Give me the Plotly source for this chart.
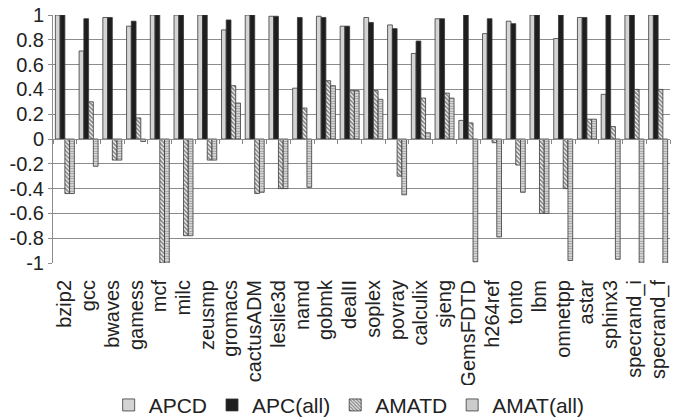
import plotly.graph_objects as go

benchmarks = ["bzip2", "gcc", "bwaves", "gamess", "mcf", "milc", "zeusmp", "gromacs",
              "cactusADM", "leslie3d", "namd", "gobmk", "dealII", "soplex", "povray",
              "calculix", "sjeng", "GemsFDTD", "h264ref", "tonto", "lbm", "omnetpp",
              "astar", "sphinx3", "specrand_i", "specrand_f"]
apcd = [1.0, 0.71, 0.98, 0.91, 1.0, 1.0, 1.0, 0.88, 1.0, 0.99, 0.41, 0.99, 0.91,
        0.98, 0.92, 0.69, 0.97, 0.15, 0.85, 0.95, 1.0, 0.81, 0.98, 0.36, 1.0, 1.0]
apc_all = [1.0, 0.97, 0.98, 0.95, 1.0, 1.0, 1.0, 0.96, 1.0, 0.99, 0.98, 0.98, 0.91,
           0.94, 0.89, 0.79, 0.97, 1.0, 0.97, 0.93, 1.0, 1.0, 0.98, 1.0, 1.0, 1.0]
amatd = [-0.44, 0.30, -0.17, 0.17, -1.0, -0.78, -0.17, 0.43, -0.44, -0.40, 0.25, 0.47,
         0.39, 0.39, -0.30, 0.33, 0.37, 0.13, -0.03, -0.21, -0.60, -0.40, 0.16, 0.10,
         0.40, 0.40]
amat_all = [-0.44, -0.22, -0.17, -0.02, -1.0, -0.78, -0.17, 0.29, -0.43, -0.40, -0.39,
            0.43, 0.39, 0.32, -0.45, 0.05, 0.33, -0.99, -0.79, -0.43, -0.60, -0.98,
            0.16, -0.97, -1.0, -1.0]
y_ticks = [1, 0.8, 0.6, 0.4, 0.2, 0, -0.2, -0.4, -0.6, -0.8, -1]

font_family = "Liberation Sans, Arial, sans-serif"
outline = dict(color="#3a3a3a", width=0.8)

fig = go.Figure()
fig.add_trace(go.Bar(name="APCD", x=benchmarks, y=apcd,
                     marker=dict(color="#d4d4d4", line=outline)))
fig.add_trace(go.Bar(name="APC(all)", x=benchmarks, y=apc_all,
                     marker=dict(color="#1e1e1e", line=outline)))
fig.add_trace(go.Bar(name="AMATD", x=benchmarks, y=amatd,
                     marker=dict(color="white", line=outline,
                                 pattern=dict(shape="\\", fgcolor="#111", bgcolor="white",
                                              size=3, solidity=0.6))))
fig.add_trace(go.Bar(name="AMAT(all)", x=benchmarks, y=amat_all,
                     marker=dict(color="white", line=outline,
                                 pattern=dict(shape="-", fgcolor="#333", bgcolor="white",
                                              size=2.5, solidity=0.6))))
# invisible trace to carry the zero-line category axis
fig.add_trace(go.Scatter(x=benchmarks, y=[None] * len(benchmarks), xaxis="x2",
                         mode="markers", showlegend=False, hoverinfo="skip"))

n = len(benchmarks)
fig.update_layout(
    width=674, height=420,
    margin=dict(l=53, r=4, t=15, b=157, autoexpand=False),
    paper_bgcolor="white", plot_bgcolor="white",
    barmode="group", bargap=0.2, bargroupgap=0,
    font=dict(family=font_family, color="#222"),
    xaxis=dict(categoryorder="array", categoryarray=benchmarks, range=[-0.5, n - 0.5],
               tickmode="array", tickvals=benchmarks, ticktext=benchmarks,
               tickangle=-90, tickfont=dict(size=20, color="#222"), ticks="",
               ticklabelstandoff=12,
               showgrid=False, showline=False, zeroline=False, automargin=False),
    xaxis2=dict(overlaying="x", anchor="free", position=0.5, side="bottom",
                categoryorder="array", categoryarray=benchmarks, range=[-0.5, n - 0.5],
                showticklabels=False, ticks="outside", tickson="boundaries", ticklen=4,
                tickcolor="#888", showline=True, linecolor="#888", linewidth=1,
                showgrid=False, zeroline=False, automargin=False),
    yaxis=dict(range=[-1, 1], tickvals=y_ticks,
               ticktext=[f"{v:g}" for v in y_ticks],
               tickfont=dict(size=20, color="#222"),
               showgrid=True, gridcolor="#8c8c8c", gridwidth=1,
               zeroline=False, showline=True, linecolor="#8c8c8c", linewidth=1,
               ticks="outside", ticklen=4, tickcolor="#8c8c8c", automargin=False),
    legend=dict(orientation="h", x=0.48, xanchor="center", yref="container",
                y=0.035, yanchor="middle",
                font=dict(size=21, color="#222"), itemwidth=30, traceorder="normal"),
)

fig.write_html("out.html",
               config={"displayModeBar": False},
               post_script="document.body.style.margin='0';"
                           "document.body.style.padding='0';"
                           "document.body.style.overflow='hidden';")
